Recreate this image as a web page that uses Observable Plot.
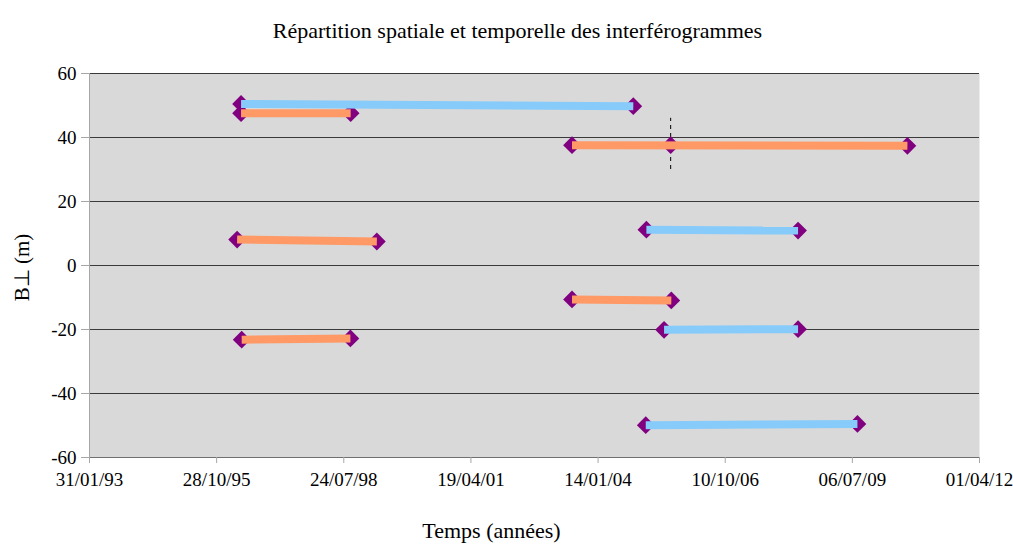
<!DOCTYPE html>
<html>
<head>
<meta charset="utf-8">
<script src="https://cdn.jsdelivr.net/npm/d3@7"></script>
<script src="https://cdn.jsdelivr.net/npm/@observablehq/plot@0.6"></script>
<style>
  html, body { margin: 0; padding: 0; background: #fff; }
</style>
</head>
<body>
<div id="chart"></div>
<script>
// ---- data ----
const titleText = "Répartition spatiale et temporelle des interférogrammes";
const xLabel = "Temps (années)";
const yLabel = "B⊥ (m)";

const xTickDates = ["1993-01-31","1995-10-28","1998-07-24","2001-04-19","2004-01-14","2006-10-10","2009-07-06","2012-04-01"];
const yTicks = [-60, -40, -20, 0, 20, 40, 60];

// interferogram pairs: type, master date, slave date, baseline at each date (m)
const pairType  = ["bleu","orange","orange","orange","bleu","orange","bleu","orange","bleu"];
const dateStart = ["1996-05-07","1996-05-07","2003-06-23","1996-04-06","2005-01-28","2003-06-23","2005-06-16","1996-05-12","2005-01-23"];
const dateEnd   = ["2004-10-17","1998-09-16","2010-09-12","1999-04-10","2008-05-05","2005-08-12","2008-05-05","1998-09-14","2009-08-15"];
const baseStart = [50.5, 47.6, 37.6, 8.1, 11.2, -10.6, -20.1, -23.2, -49.9];
const baseEnd   = [49.8, 47.6, 37.4, 7.5, 10.9, -10.9, -19.9, -22.8, -49.5];

// intermediate acquisition with dashed event marker
const eventDate = "2005-08-07";
const eventBase = 37.6;
const eventRange = [30, 46];

// ---- build tables ----
const parse = d3.utcParse("%Y-%m-%d");
const pairs = pairType.map((t, i) => ({
  type: t,
  d1: parse(dateStart[i]), d2: parse(dateEnd[i]),
  b1: baseStart[i], b2: baseEnd[i]
}));
const markers = pairs.flatMap(p => [{d: p.d1, b: p.b1}, {d: p.d2, b: p.b2}])
  .concat([{d: parse(eventDate), b: eventBase}]);
const xTicks = xTickDates.map(parse);
const typeColors = {bleu: "#87cbfa", orange: "#ff9966"};

const chart = Plot.plot({
  width: 1013,
  height: 547,
  marginLeft: 89,
  marginRight: 34,
  marginTop: 73,
  marginBottom: 90,
  style: {fontFamily: "'Liberation Serif', 'Times New Roman', serif", fontSize: "19px", color: "#000", background: "#fff"},
  x: {type: "utc", domain: [xTicks[0], xTicks[xTicks.length - 1]]},
  y: {domain: [yTicks[0], yTicks[yTicks.length - 1]]},
  marks: [
    Plot.frame({fill: "#d9d9d9", stroke: null}),
    Plot.ruleY(yTicks.slice(1), {stroke: "#3a3a3a", strokeWidth: 1}),
    Plot.ruleY([yTicks[0]], {stroke: "#707070", strokeWidth: 1.2}),
    Plot.ruleX([xTicks[0]], {stroke: "#a6a6a6", strokeWidth: 1}),
    Plot.axisY({ticks: yTicks, tickSize: 8, tickPadding: 5, stroke: "#a6a6a6", label: null, tickFormat: d => String(d)}),
    Plot.axisX({ticks: xTicks, tickSize: 6, tickPadding: 9, stroke: "#a6a6a6", label: null, tickFormat: d3.utcFormat("%d/%m/%y")}),
    Plot.ruleX([parse(eventDate)], {y1: eventRange[0], y2: eventRange[1], stroke: "#000", strokeWidth: 1, strokeDasharray: "4,4"}),
    Plot.dot(markers, {x: "d", y: "b", symbol: "diamond2", r: 8, fill: "#800080", stroke: null}),
    Plot.link(pairs, {x1: "d1", y1: "b1", x2: "d2", y2: "b2", stroke: d => typeColors[d.type], strokeWidth: 8, strokeLinecap: "butt"}),
    Plot.text([titleText], {frameAnchor: "top-left", dx: 428, dy: -51, textAnchor: "middle", fontSize: 22, fill: "#000"}),
    Plot.text([xLabel], {frameAnchor: "bottom-left", dx: 402, dy: 80, textAnchor: "middle", fontSize: 22, fill: "#000"}),
    Plot.text([yLabel], {frameAnchor: "left", dx: -67, dy: 2, rotate: -90, textAnchor: "middle", fontSize: 21, fill: "#000"})
  ]
});
document.getElementById("chart").appendChild(chart);
</script>
</body>
</html>
